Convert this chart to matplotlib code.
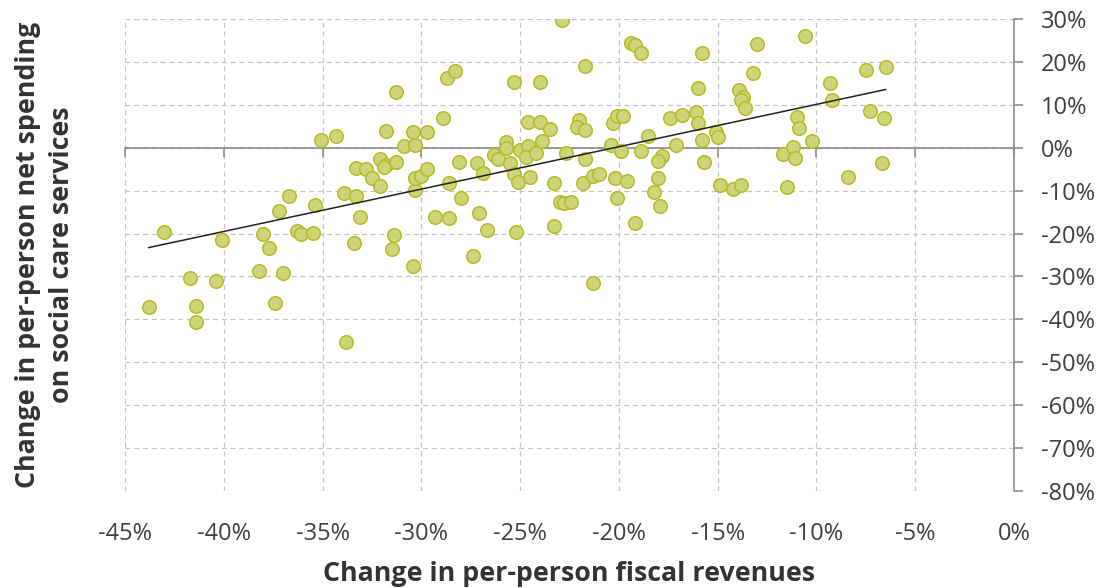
import numpy as np
import matplotlib
matplotlib.use("Agg")
import matplotlib.pyplot as plt
from matplotlib.ticker import FuncFormatter

plt.rcParams['font.family'] = ['Open Sans', 'DejaVu Sans']

# change in per-person fiscal revenues (%)
rev = [-43.0, -43.8, -41.7, -41.4, -41.4, -40.4, -40.1, -38.2, -38.0, -37.7,
       -37.4, -37.0, -37.2, -36.7, -36.3, -36.1, -35.5, -35.4, -33.9, -33.3,
       -33.1, -33.4, -33.8, -31.4, -31.5, -30.4, -30.3, -29.3, -33.3, -32.8,
       -32.5, -32.1, -32.1, -31.8, -31.9, -31.3, -30.3, -30.0, -29.7,
       -35.1, -34.3, -31.3, -31.8, -30.4, -29.7, -30.9, -30.3, -28.9, -28.7, -28.3,
       -28.6, -28.6, -28.0, -28.1, -27.2, -26.9, -27.1, -26.7, -27.4,
       -26.3, -26.1, -25.7, -25.7, -25.5, -25.3, -25.1, -25.2,
       -25.0, -24.6, -24.7, -24.2, -24.5, -25.3, -24.0,
       -24.6, -24.0, -23.5, -23.9, -23.3, -23.0, -22.8, -22.4, -23.3, -22.7,
       -21.7, -22.0, -22.1, -21.7, -21.7, -21.8, -21.3, -21.0, -21.3,
       -20.4, -20.3, -20.1, -20.2, -20.1, -22.9,
       -19.4, -19.2, -18.9, -19.8, -19.9, -19.6, -19.2, -18.9, -18.5,
       -17.8, -18.0, -18.0, -18.2, -17.9, -17.4, -16.8, -17.1, -16.1, -16.0,
       -16.0, -15.8, -15.8, -15.7, -15.1, -15.0, -14.9, -14.2, -13.8,
       -13.9, -13.7, -13.8, -13.6, -13.2, -13.0, -11.7, -11.2, -11.1, -11.5,
       -11.0, -10.9, -10.6, -10.2, -9.3, -9.2, -8.4, -7.5, -6.5, -7.3, -6.6, -6.7]

# change in per-person net spending on social care services (%)
spend = [-19.6, -37.2, -30.3, -36.8, -40.6, -31.0, -21.6, -28.7, -20.2, -23.3,
         -36.2, -29.2, -14.8, -11.3, -19.3, -20.1, -19.9, -13.4, -10.6, -11.3,
         -16.1, -22.1, -45.3, -20.3, -23.5, -27.6, -9.9, -16.1, -4.8, -5.0,
         -7.1, -8.9, -2.7, -4.0, -4.4, -3.3, -7.1, -6.5, -5.0,
         1.9, 2.8, 12.9, 3.9, 3.7, 3.6, 0.5, 0.6, 6.9, 16.2, 17.9,
         -16.4, -8.1, -11.7, -3.3, -3.6, -5.9, -15.1, -19.2, -25.2,
         -1.7, -2.6, 1.4, -0.1, -3.6, -6.1, -7.9, -19.7,
         -0.4, 0.5, -2.1, -1.2, -6.8, 15.3, 15.3,
         6.1, 6.1, 4.4, 1.6, -8.2, -12.7, -12.8, -12.6, -18.2, -1.1,
         19.0, 6.5, 4.9, 4.1, -2.6, -8.2, -6.6, -6.0, -31.6,
         0.6, 5.7, 7.3, -7.1, -11.6, 29.8,
         24.4, 24.0, 22.1, 7.5, -0.8, -7.8, -17.6, -0.8, 2.7,
         -1.9, -3.0, -7.1, -10.2, -13.5, 6.9, 7.6, 0.6, 8.4, 5.8,
         13.9, 22.2, 1.8, -3.4, 3.8, 2.6, -8.7, -9.6, -8.7,
         13.4, 11.9, 11.1, 9.3, 17.4, 24.2, -1.5, 0.2, -2.3, -9.1,
         7.2, 4.5, 26.0, 1.6, 15.0, 11.1, -6.8, 18.2, 18.9, 8.5, 6.9, -3.6]

xticks = np.arange(-45, 1, 5)
yticks = np.arange(-80, 31, 10)

pct = FuncFormatter(lambda v, p: f"{int(round(v))}%")
txt = '#404040'

fig = plt.figure(figsize=(11.09, 5.88), dpi=100)
ax = fig.add_axes([0.1127, 0.165, 0.8016, 0.8025])

ax.set_xlim(-45, 0)
ax.set_ylim(-80, 30)
ax.set_xticks(xticks)
ax.set_yticks(yticks)
ax.grid(True, color='#c4c4c4', linestyle=(0, (4, 3)), linewidth=0.9)
ax.set_axisbelow(True)

for s in ['top', 'left']:
    ax.spines[s].set_visible(False)
ax.spines['right'].set_color('#8c8c8c')
ax.spines['right'].set_linewidth(1.2)
ax.spines['bottom'].set_position(('data', 0))
ax.spines['bottom'].set_color('#8c8c8c')
ax.spines['bottom'].set_linewidth(1.2)

ax.yaxis.tick_right()
ax.yaxis.set_major_formatter(pct)
ax.tick_params(axis='y', direction='out', length=6.5, width=1.2, color='#8c8c8c',
               pad=13, labelsize=17, labelcolor=txt)
ax.tick_params(axis='x', direction='out', length=6.5, width=1.2, color='#8c8c8c',
               labelbottom=False)

# tick labels along the bottom edge
sec = ax.secondary_xaxis('bottom')
sec.set_xticks(xticks)
sec.xaxis.set_major_formatter(pct)
sec.spines['bottom'].set_visible(False)
sec.tick_params(length=0, pad=22, labelsize=17, labelcolor=txt)
sec.set_xlabel('Change in per-person fiscal revenues', fontsize=19.3,
               fontweight='bold', color='#333333', labelpad=11)

ax.yaxis.set_label_position('left')
ax.set_ylabel('Change in per-person net spending\non social care services',
              fontsize=19.3, fontweight='bold', color='#333333', labelpad=36,
              linespacing=1.4)

ax.scatter(rev, spend, s=95, facecolor='#cdd47a', edgecolor='#b3bc28',
           linewidth=1.1, zorder=3)

# linear trend line
k, b = np.polyfit(rev, spend, 1)
xl = np.array([min(rev), max(rev)])
ax.plot(xl, k * xl + b, color='#222222', linewidth=1.1, zorder=4)

fig.savefig('out.png', dpi=100)
